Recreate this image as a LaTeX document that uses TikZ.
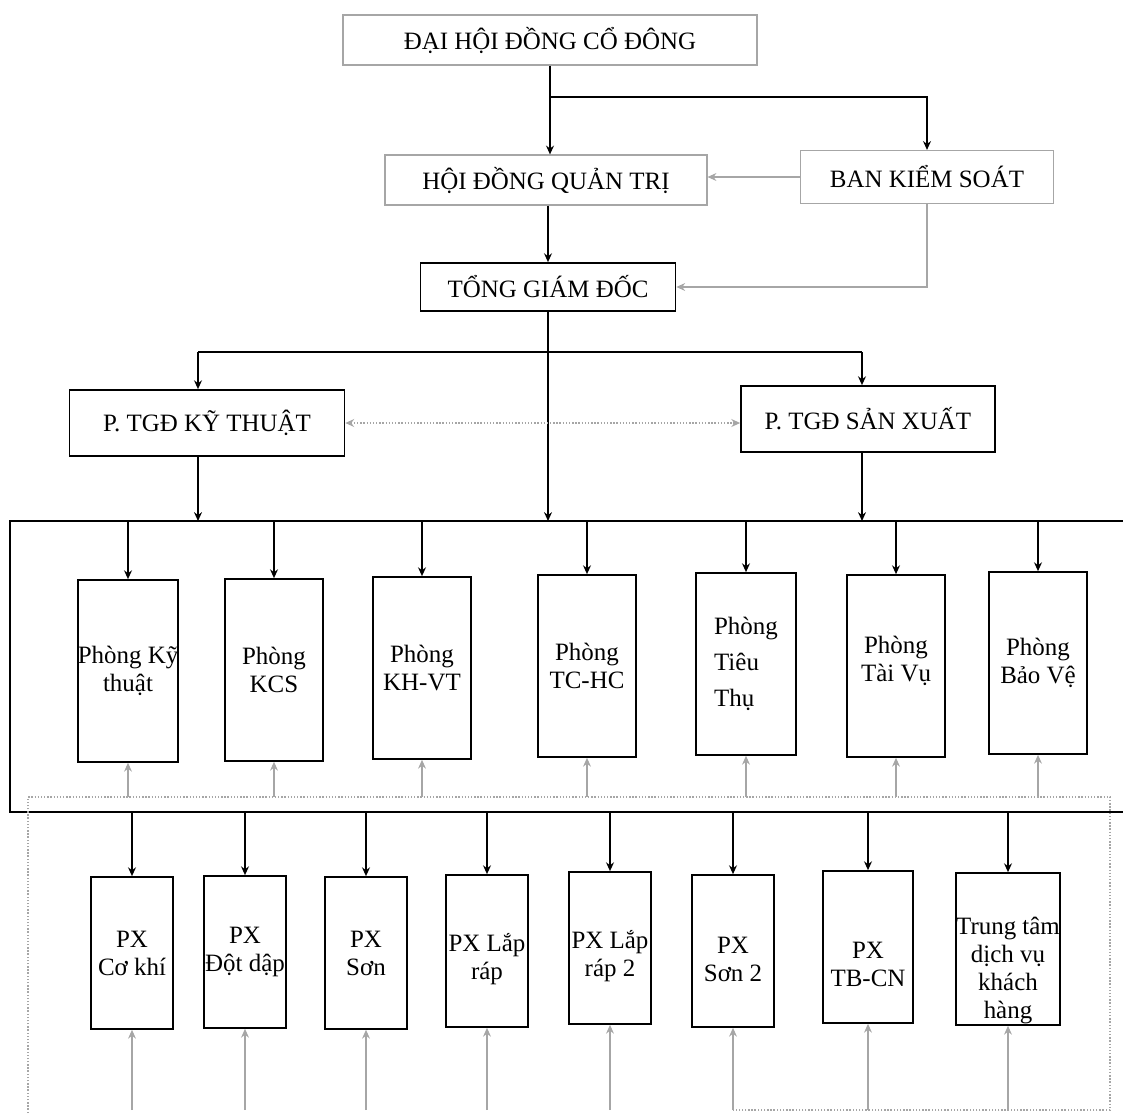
\documentclass[tikz,border=0pt]{standalone}
\usepackage{fontspec}
\setmainfont{Liberation Serif}
\usetikzlibrary{arrows.meta}

\begin{document}
\begin{tikzpicture}[x=0.02cm, y=-0.02cm,
    every node/.style={font=\fontsize{14.2}{16}\selectfont},
    box/.style={draw, rectangle, inner sep=0pt, align=center, line width=1pt},
    lightbox/.style={box, draw=gray!70, line width=0.7pt},
    room/.style={box, minimum width=1.96cm, minimum height=3.64cm},
    shop/.style={box, minimum width=1.64cm, minimum height=3.04cm},
    link/.style={-{Stealth[length=5pt,width=4.5pt]}, line width=0.9pt},
    back/.style={link, draw=gray!70, line width=0.6pt}]
    \useasboundingbox (0,0) rectangle (1123,1113);

    % board levels
    \node[lightbox, minimum width=8.28cm, minimum height=1cm] (dhcd) at (550,40) {ĐẠI HỘI ĐỒNG CỔ ĐÔNG};
    \node[lightbox, minimum width=6.44cm, minimum height=1cm] (hdqt) at (546,180) {HỘI ĐỒNG QUẢN TRỊ};
    \node[lightbox, minimum width=5.06cm, minimum height=1.06cm] (bks) at (927,177) {BAN KIỂM SOÁT};
    \node[box, minimum width=5.1cm, minimum height=0.96cm] (tgd) at (548,287) {TỔNG GIÁM ĐỐC};
    \node[box, minimum width=5.5cm, minimum height=1.32cm] (pkt) at (207,423) {P. TGĐ KỸ THUẬT};
    \node[box, minimum width=5.08cm, minimum height=1.32cm] (psx) at (868,419) {P. TGĐ SẢN XUẤT};

    \coordinate (br) at (550,97);
    \coordinate (kt) at (198,352);
    \coordinate (sx) at (862,352);
    \coordinate (top) at (0,521);
    \coordinate (bot) at (0,812);
    \coordinate (dot) at (0,797);
    \coordinate (base) at (0,1110);

    \draw[link] (dhcd.south) -- (dhcd.south |- hdqt.north);
    \draw[link] (br) -| (bks.north);
    \draw[back] (bks.west) -- (bks.west -| hdqt.east);
    \draw[back] (bks.south) |- (tgd.east);
    \draw[link] (hdqt.south -| tgd.north) -- (tgd.north);
    \draw[link] (tgd.south) -- (tgd.south |- top);
    \draw[line width=0.9pt] (kt) -- (sx);
    \draw[link] (kt) -- (kt |- pkt.north);
    \draw[link] (sx) -- (sx |- psx.north);
    \draw[{Stealth[length=5pt,width=4.5pt]}-{Stealth[length=5pt,width=4.5pt]}, gray!70, densely dotted, line width=0.8pt]
        (pkt.east) -- (pkt.east -| psx.west);
    \draw[link] (kt |- pkt.south) -- (kt |- top);
    \draw[link] (sx |- psx.south) -- (sx |- top);

    % frames
    \draw[line width=1pt] (1123,521) -- (10,521) -- (10,812) -- (1123,812);
    \draw[gray!70, densely dotted, line width=0.8pt] (28,1113) -- (28,797) -- (1110,797) -- (1110,1110) -- (733,1110);

    % departments
    \node[room] (p1) at (128,671) {Phòng Kỹ\\thuật};
    \node[room] (p2) at (274,670) {Phòng\\KCS};
    \node[room] (p3) at (422,668) {Phòng\\KH-VT};
    \node[room] (p4) at (587,666) {Phòng\\TC-HC};
    \node[room, minimum width=2cm, align=left] (p5) at (746,664) {Phòng\\[4.5pt]Tiêu\\[4.5pt]Thụ};
    \node[room] (p6) at (896,666) {Phòng\\Tài Vụ\\[-8pt]\mbox{}};
    \node[room] (p7) at (1038,663) {Phòng\\Bảo Vệ};

    % workshops
    \node[shop] (x1) at (132,953) {PX\\Cơ khí};
    \node[shop] (x2) at (245,952) {PX\\Đột dập};
    \node[shop] (x3) at (366,953) {PX\\Sơn};
    \node[shop] (x4) at (487,951) {\rule{0pt}{20pt}PX Lắp\\ráp};
    \node[shop] (x5) at (610,948) {\rule{0pt}{20pt}PX Lắp\\ráp 2};
    \node[shop] (x6) at (733,951) {\rule{0pt}{19pt}PX\\Sơn 2};
    \node[shop, minimum width=1.8cm] (x7) at (868,947) {\mbox{}\\[13pt]PX\\TB-CN};
    \node[shop, minimum width=2.06cm] (x8) at (1008,949) {\mbox{}\\[18pt]Trung tâm\\dịch vụ\\khách\\hàng};

    \foreach \n in {p1,p2,p3,p4,p5,p6,p7}{
        \draw[link] (\n.north |- top) -- (\n.north);
        \draw[back] (\n.south |- dot) -- (\n.south);
    }
    \foreach \n in {x1,x2,x3,x4,x5,x6,x7,x8}{
        \draw[link] (\n.north |- bot) -- (\n.north);
        \draw[back] (\n.south |- base) -- (\n.south);
    }
\end{tikzpicture}
\end{document}
